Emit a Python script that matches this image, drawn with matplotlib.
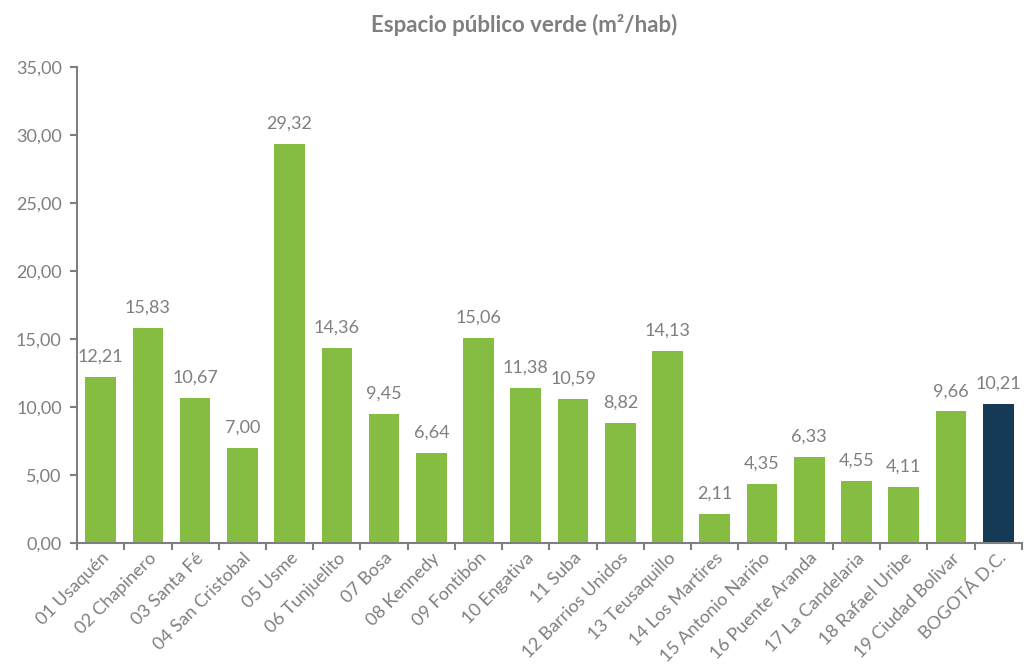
import numpy as np
import matplotlib.pyplot as plt

plt.rcParams['font.family'] = ['Lato', 'DejaVu Sans']

# localidades y m2 de espacio publico verde por habitante
localidades = ['01 Usaquén', '02 Chapinero', '03 Santa Fé', '04 San Cristobal',
               '05 Usme', '06 Tunjuelito', '07 Bosa', '08 Kennedy',
               '09 Fontibón', '10 Engativa', '11 Suba', '12 Barrios Unidos',
               '13 Teusaquillo', '14 Los Martires', '15 Antonio Nariño',
               '16 Puente Aranda', '17 La Candelaria', '18 Rafael Uribe',
               '19 Ciudad Bolivar', 'BOGOTÁ D.C.']
valores = [12.21, 15.83, 10.67, 7.00, 29.32, 14.36, 9.45, 6.64, 15.06, 11.38,
           10.59, 8.82, 14.13, 2.11, 4.35, 6.33, 4.55, 4.11, 9.66, 10.21]

verde = '#84BD41'
azul = '#143A55'
gris = '#7F7F7F'
colores = [verde] * (len(valores) - 1) + [azul]

fig = plt.figure(figsize=(10.27, 6.67), dpi=100)
ax = fig.add_axes([0.075, 0.186, 0.92, 0.714])

x = np.arange(len(valores))
ax.bar(x, valores, width=0.65, color=colores)

for xi, v in zip(x, valores):
    ax.text(xi, v + 0.9, f'{v:.2f}'.replace('.', ','), ha='center', va='bottom',
            fontsize=13, color=gris)

ax.set_xlim(-0.5, len(valores) - 0.5)
ax.set_ylim(0, 35)
ax.set_yticks(np.arange(0, 36, 5))
ax.set_yticklabels([f'{t:.2f}'.replace('.', ',') for t in np.arange(0, 36, 5)])

# marcas del eje x entre categorias, etiquetas en el centro
ax.set_xticks(np.arange(-0.5, len(valores), 1))
ax.set_xticklabels([])
ax.set_xticks(x, minor=True)
ax.set_xticklabels(localidades, minor=True, rotation=45, ha='right',
                   rotation_mode='anchor', fontsize=13, color=gris)
ax.tick_params(axis='x', which='minor', length=0, pad=5)
ax.tick_params(axis='x', which='major', length=5, width=1.5, color=gris)
ax.tick_params(axis='y', length=5, width=1.5, color=gris, labelsize=13,
               labelcolor=gris, pad=6)

for s in ['top', 'right']:
    ax.spines[s].set_visible(False)
for s in ['left', 'bottom']:
    ax.spines[s].set_color(gris)
    ax.spines[s].set_linewidth(1.5)

fig.text(0.51, 0.963, 'Espacio público verde (m²/hab)', ha='center', va='center',
         fontsize=16, fontweight='bold', color=gris)

fig.savefig('out.png', dpi=100)
